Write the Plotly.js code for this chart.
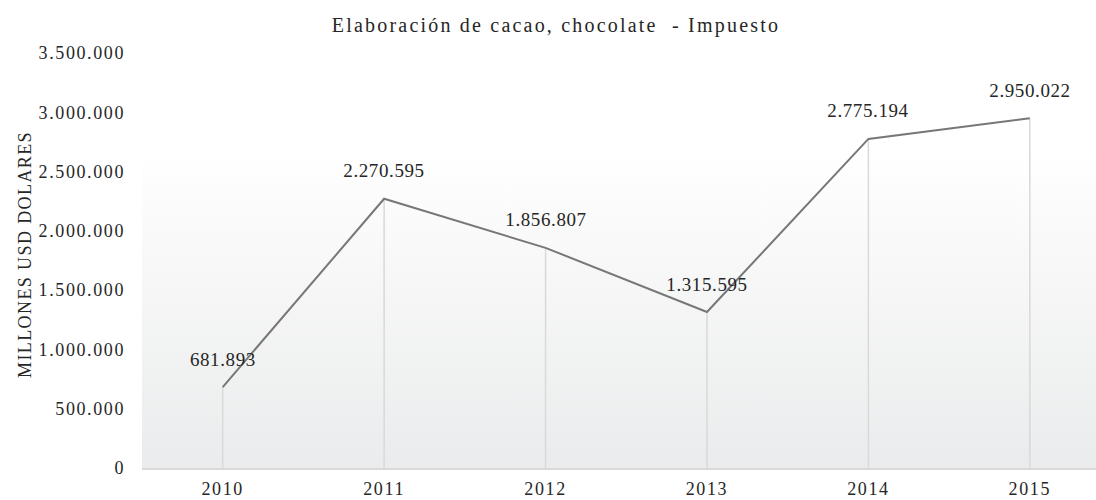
<!DOCTYPE html>
<html>
<head>
<meta charset="utf-8">
<script src="https://cdn.plot.ly/plotly-3.0.1.min.js"></script>
<style>
html,body{margin:0;padding:0;background:#fff;}
#chart{width:1096px;height:500px;}
#chart .xtick text, #chart .ytick text{letter-spacing:1.6px;}
#chart .gtitle{letter-spacing:2.2px;}
#chart .annotation text{letter-spacing:0.6px;}
#chart .annotation[data-index="6"] text{letter-spacing:1.4px;}
</style>
</head>
<body>
<div id="chart"></div>
<script>
var years = ['2010', '2011', '2012', '2013', '2014', '2015'];
var impuesto = [681893, 2270595, 1856807, 1315595, 2775194, 2950022];
var yTickVals = [0, 500000, 1000000, 1500000, 2000000, 2500000, 3000000, 3500000];

function fmt(n) {
  return String(Math.round(n)).replace(/\B(?=(\d{3})+(?!\d))/g, '.');
}

var serif = 'Liberation Serif, Times New Roman, serif';

var dropTrace = {
  x: years, y: impuesto, type: 'scatter', mode: 'markers',
  marker: {size: 1, color: 'rgba(0,0,0,0)'},
  error_y: {type: 'data', symmetric: false, array: impuesto.map(function(){return 0;}),
            arrayminus: impuesto, width: 0, color: '#d9d9d9', thickness: 1.5},
  hoverinfo: 'skip', showlegend: false
};
var lineTrace = {
  x: years, y: impuesto, type: 'scatter', mode: 'lines',
  line: {color: '#777777', width: 2}, showlegend: false
};

var annotations = years.map(function(yr, i) {
  return {x: i, y: impuesto[i], xref: 'x', yref: 'y', text: fmt(impuesto[i]),
          showarrow: false, yshift: 28, xanchor: 'center', yanchor: 'middle',
          font: {family: serif, size: 19, color: '#262626'}};
});
annotations.push({
  text: 'MILLONES USD DOLARES', xref: 'paper', yref: 'paper',
  x: (25 - 142) / 954, y: (468 - 255) / 415, textangle: -90, showarrow: false,
  xanchor: 'center', yanchor: 'middle', font: {family: serif, size: 18, color: '#262626'}
});

var svg = "<svg xmlns='http://www.w3.org/2000/svg' width='10' height='100' viewBox='0 0 10 100' preserveAspectRatio='none'>" +
  "<defs><linearGradient id='g' x1='0' y1='0' x2='0' y2='1'><stop offset='0' stop-color='#ffffff'/>" +
  "<stop offset='1' stop-color='#eaebec'/></linearGradient></defs><rect width='10' height='100' fill='url(#g)'/></svg>";
var gTop = (468 - 149) / 415;

var layout = {
  width: 1096, height: 500,
  margin: {l: 142, r: 0, t: 53, b: 32, pad: 0},
  paper_bgcolor: '#ffffff', plot_bgcolor: 'rgba(0,0,0,0)',
  separators: ',.',
  title: {text: 'Elaboración de cacao, chocolate  - Impuesto', x: 556 / 1096, xanchor: 'center',
          y: 1 - 25 / 500, yanchor: 'middle', yref: 'container',
          font: {family: serif, size: 20, color: '#262626'}},
  xaxis: {type: 'category', range: [-0.5, 5.41], showgrid: false, zeroline: false,
          showline: true, linecolor: '#d9d9d9', linewidth: 1.5, ticks: '',
          ticklabelstandoff: 4, tickfont: {family: serif, size: 18, color: '#262626'}, fixedrange: true},
  yaxis: {range: [0, 3500000], tickvals: yTickVals, ticktext: yTickVals.map(fmt), showgrid: false,
          zeroline: false, showline: false, ticks: '', ticklabelstandoff: 16,
          tickfont: {family: serif, size: 18, color: '#262626'}, fixedrange: true},
  images: [{source: 'data:image/svg+xml;charset=utf-8,' + encodeURIComponent(svg),
            xref: 'paper', yref: 'paper', x: 0, y: gTop, sizex: 1, sizey: gTop,
            xanchor: 'left', yanchor: 'top', sizing: 'stretch', layer: 'below'}],
  annotations: annotations,
  showlegend: false
};

Plotly.newPlot('chart', [dropTrace, lineTrace], layout, {displayModeBar: false, staticPlot: true});
</script>
</body>
</html>
